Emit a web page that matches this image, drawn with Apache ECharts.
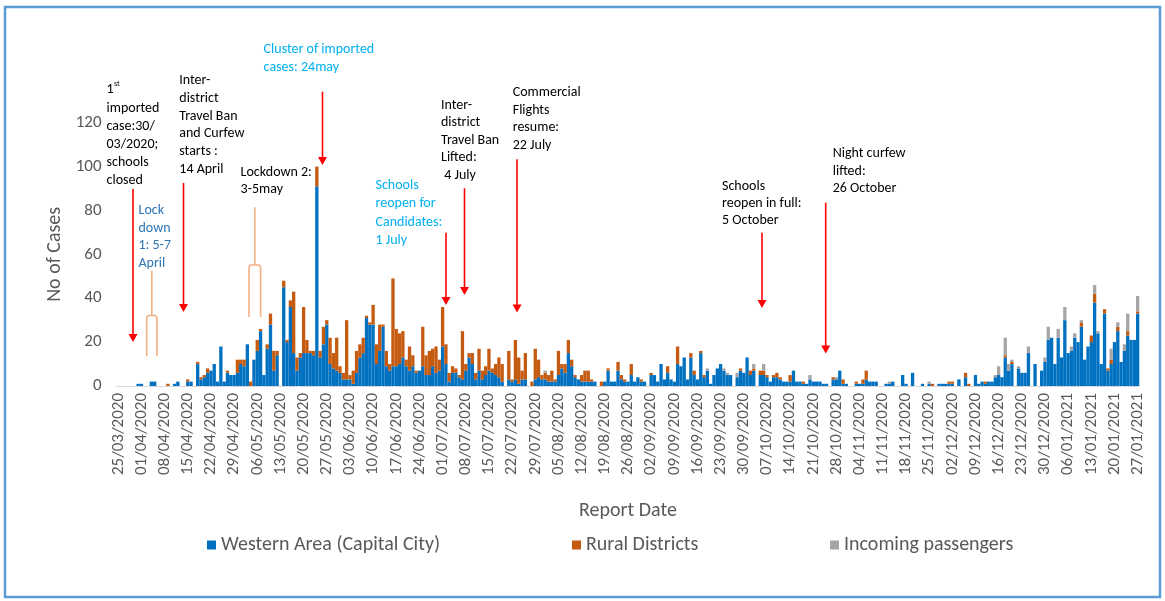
<!DOCTYPE html>
<html><head><meta charset="utf-8">
<script src="https://cdn.jsdelivr.net/npm/echarts@6/dist/echarts.min.js"></script>
<style>html,body{margin:0;padding:0;background:#fff}#c{width:1165px;height:601px}</style>
</head><body><div id="c"></div>
<script>
// ---------- DATA ----------
const startDate = '2020-03-25';
const dayCount = 309; // 25/03/2020 .. 27/01/2021
const seriesNames = ['Western Area (Capital City)', 'Rural Districts', 'Incoming passengers'];
const yTicks = [0, 20, 40, 60, 80, 100, 120];

const western = [
0,0,0,0,0,0,1, 1,0,0,2,2,0,0, 0,0,0,1,2,0,0, 2,2,0,10,3,4,6, 7,10,2,18,2,6,5,
5,6,10,9,19,0,12, 16,25,5,17,28,7,14, 0,45,20,36,15,7,13, 15,15,15,14,91,13,19, 28,10,8,7,6,3,3,
3,1,6,13,15,31,28, 28,10,16,27,9,7,9, 9,10,13,9,7,9,6, 7,9,5,5,9,6,7, 18,10,2,6,6,4,3,
7,13,10,3,7,3,5, 7,6,5,4,2,0,3, 2,3,1,3,3,0,0, 3,4,3,3,2,2,2, 5,8,6,15,9,4,3,
2,2,2,2,2,0,0, 2,7,2,2,7,3,2, 2,5,2,4,2,2,0, 5,5,2,10,3,6,3, 2,10,9,13,3,13,5,
3,15,4,7,1,5,8, 10,7,5,5,0,4,7, 6,13,5,7,0,5,5, 4,2,4,4,3,2,2, 2,7,2,2,1,1,3,
2,2,2,1,1,0,3, 3,7,1,1,0,0,1, 1,1,3,2,2,2,0, 0,1,1,2,0,0,5, 1,0,6,0,0,1,0,
1,0,0,1,1,1,1, 1,0,3,0,4,0,0, 5,1,2,1,2,2,4, 5,4,13,7,10,0,8, 6,6,15,0,10,0,7,
11,21,22,10,22,13,30, 15,16,22,20,27,12,18, 20,38,24,10,33,7,10, 20,25,11,16,23,21,21, 33
];
const rural = [
0,0,0,0,0,0,0, 0,0,0,0,0,0,0, 0,1,0,0,0,0,0, 1,0,0,1,1,1,2, 0,0,0,0,0,1,0,
0,6,2,3,0,2,0, 5,1,0,2,5,9,2, 0,3,1,3,28,6,2, 21,6,1,2,9,3,8, 2,12,7,15,3,3,27,
2,6,10,6,7,1,1, 9,9,12,1,7,3,40, 17,14,12,3,11,5,1, 0,18,9,11,8,12,5, 18,9,4,3,2,1,22,
3,2,5,3,10,4,4, 10,2,5,9,8,0,13, 1,18,12,4,12,0,2, 14,8,2,3,3,5,1, 11,2,4,6,3,1,0,
3,5,5,1,0,0,2, 0,1,0,0,4,2,1, 0,5,0,0,1,0,0, 1,0,0,0,0,3,0, 0,8,0,0,0,2,2,
0,1,1,0,0,0,0, 0,0,0,0,0,0,1, 0,0,2,1,0,2,2, 1,0,1,2,1,0,0, 3,0,0,0,1,0,0,
0,0,0,0,0,0,1, 0,0,2,0,0,0,1, 0,2,4,0,0,0,0, 0,0,0,0,0,0,0, 0,0,0,0,0,0,0,
0,1,0,0,0,0,1, 1,0,0,0,2,1,0, 0,0,0,1,0,0,0, 0,0,1,0,1,0,0, 0,0,0,0,0,0,0,
0,0,0,0,0,0,0, 0,0,0,0,2,0,0, 3,4,0,0,2,1,2, 0,2,0,0,2,0,0, 1
];
const incoming = [
0,0,0,0,0,0,0, 0,0,0,0,0,0,0, 0,0,0,0,0,0,0, 0,0,0,0,0,0,0, 0,0,0,0,0,0,0,
0,0,0,0,0,0,0, 0,0,0,0,0,0,0, 0,0,0,0,0,0,0, 0,0,0,0,0,0,0, 0,0,0,0,0,0,0,
0,0,0,0,0,0,0, 0,0,0,0,0,0,0, 0,0,0,0,0,0,0, 0,0,0,0,0,0,0, 0,0,0,0,0,0,0,
0,0,0,0,0,0,0, 0,0,0,0,0,0,0, 0,0,0,0,0,0,0, 0,0,0,1,0,0,0, 0,0,0,0,0,0,0,
0,0,0,0,0,0,0, 0,0,0,0,0,0,0, 0,0,0,0,0,0,0, 0,0,0,0,0,0,0, 0,0,0,0,0,0,0,
0,0,0,1,0,0,0, 0,1,1,0,0,2,0, 0,0,0,2,0,0,3, 0,0,0,0,0,0,0, 0,0,0,0,0,0,2,
0,0,0,0,0,0,0, 1,0,0,0,0,0,0, 0,0,0,0,0,0,0, 0,0,1,0,0,0,0, 0,0,0,0,0,0,0,
1,0,0,0,0,0,0, 0,0,0,0,0,0,0, 0,0,0,0,0,0,1, 4,0,8,3,1,0,1, 0,0,3,0,0,0,0,
2,6,0,0,4,0,6, 0,2,2,0,1,0,0, 0,4,1,0,0,0,5, 0,2,0,3,8,0,0, 7
];

// ---------- categories (daily dates) ----------
function buildDates(start, n) {
  const out = [];
  const d = new Date(start + 'T12:00:00Z');
  for (let i = 0; i < n; i++) {
    const dd = String(d.getUTCDate()).padStart(2, '0');
    const mm = String(d.getUTCMonth() + 1).padStart(2, '0');
    out.push(dd + '/' + mm + '/' + d.getUTCFullYear());
    d.setUTCDate(d.getUTCDate() + 1);
  }
  return out;
}
const dates = buildDates(startDate, dayCount);

// ---------- styling ----------
const FONT = 'Calibri, Carlito, Lato, sans-serif';
const GREY = '#595959';
const colors = ['#0070C0', '#C55A11', '#A5A5A5'];

function arrow(x, y1, y2) {
  return [
    {type: 'line', silent: true, shape: {x1: x, y1: y1, x2: x, y2: y2 - 6}, style: {stroke: '#FF0000', lineWidth: 1.6}},
    {type: 'polygon', silent: true, shape: {points: [[x - 4.5, y2 - 8], [x + 4.5, y2 - 8], [x, y2]]}, style: {fill: '#FF0000'}}
  ];
}
function bracket(xs, yTop, yBar, xl, xr, yBot) {
  return [
    {type: 'polyline', silent: true, shape: {points: [[xs, yTop], [xs, yBar]]}, style: {stroke: '#F4B183', lineWidth: 1.6, fill: null}},
    {type: 'polyline', silent: true, shape: {points: [[xl, yBot], [xl, yBar + 2], [xl + 1.5, yBar], [xr - 1.5, yBar], [xr, yBar + 2], [xr, yBot]]}, style: {stroke: '#F4B183', lineWidth: 1.6, fill: null}}
  ];
}
function note(x, yTop, text, color, lh) {
  return {type: 'text', silent: true, x: x, y: yTop, style: {text: text, fill: color || '#000', font: '14px ' + FONT, lineHeight: lh || 17.6, verticalAlign: 'top', align: 'left'}};
}

const graphics = [
  {type: 'rect', silent: true, shape: {x: 5, y: 7, width: 1155, height: 590}, style: {fill: null, stroke: '#5B9BD5', lineWidth: 2.5}},
  {type: 'text', silent: true, x: 106.5, y: 82, style: {text: '1', fill: '#000', font: '14px ' + FONT, verticalAlign: 'top'}},
  {type: 'text', silent: true, x: 114, y: 80, style: {text: 'st', fill: '#000', font: '8px ' + FONT, verticalAlign: 'top'}},
  note(106.5, 99.5, 'imported\ncase:30/\n03/2020;\nschools\nclosed', '#000', 17.9),
  note(138.5, 201.5, 'Lock\ndown\n1: 5-7\nApril', '#2E75B6', 17.7),
  note(179.3, 71.5, 'Inter-\ndistrict\nTravel Ban\nand Curfew\nstarts :\n14 April', '#000', 17.8),
  note(240.6, 163.5, 'Lockdown 2:\n3-5may', '#000'),
  note(263.6, 40, 'Cluster of imported\ncases: 24may', '#00B0F0', 18),
  note(375.5, 176.3, 'Schools\nreopen for\nCandidates:\n1 July', '#00B0F0', 18.3),
  note(441, 96.3, 'Inter-\ndistrict\nTravel Ban\nLifted:\n 4 July', '#000', 17.5),
  note(512.7, 83.5, 'Commercial\nFlights\nresume:\n22 July', '#000', 17.7),
  note(722, 177.5, 'Schools\nreopen in full:\n5 October', '#000', 17.3),
  note(832.7, 145, 'Night curfew\nlifted:\n26 October', '#000', 17.4)
]
.concat(arrow(133, 189, 342))
.concat(arrow(183.5, 183, 312))
.concat(arrow(322.5, 91.7, 165))
.concat(arrow(446, 232.7, 305))
.concat(arrow(464.5, 188.3, 295))
.concat(arrow(517, 159.3, 312.5))
.concat(arrow(762, 232.7, 308))
.concat(arrow(825.7, 202.7, 353.5))
.concat(bracket(151.8, 270.7, 315.5, 146.7, 156.9, 356))
.concat(bracket(254.8, 207.3, 265, 249, 260.6, 317));

const chart = echarts.init(document.getElementById('c'), null, {renderer: 'canvas'});
const option = {
  animation: false,
  backgroundColor: '#fff',
  textStyle: {fontFamily: FONT},
  grid: {left: 116.6, right: 25.7, top: 122.7, bottom: 215},
  legend: [0, 1, 2].map((i) => ({
    data: [seriesNames[i]],
    left: [207, 572, 830][i],
    top: 535,
    padding: 0,
    icon: 'rect',
    itemWidth: 9,
    itemHeight: 9,
    itemGap: 6,
    textStyle: {fontSize: 20, color: GREY, fontFamily: FONT, padding: [0, 0, 0, 0]},
    selectedMode: false
  })),
  xAxis: {
    type: 'category',
    data: dates,
    boundaryGap: true,
    axisLine: {lineStyle: {color: '#D9D9D9', width: 1}},
    axisTick: {interval: 6, alignWithLabel: true, length: 5, lineStyle: {color: '#D9D9D9'}},
    axisLabel: {interval: 6, rotate: 90, fontSize: 17, color: GREY, margin: 7, fontFamily: FONT},
    splitLine: {show: false},
    name: 'Report Date',
    nameLocation: 'middle',
    nameGap: 115,
    nameTextStyle: {fontSize: 20, color: GREY, fontFamily: FONT}
  },
  yAxis: {
    type: 'value',
    min: yTicks[0],
    max: yTicks[yTicks.length - 1],
    interval: yTicks[1] - yTicks[0],
    axisLine: {show: false},
    axisTick: {show: false},
    splitLine: {show: false},
    axisLabel: {fontSize: 17, color: GREY, margin: 15, fontFamily: FONT},
    name: 'No of Cases',
    nameLocation: 'middle',
    nameRotate: 90,
    nameGap: 50,
    nameTextStyle: {fontSize: 20, color: GREY, fontFamily: FONT}
  },
  series: [western, rural, incoming].map((d, i) => ({
    name: seriesNames[i],
    type: 'bar',
    stack: 'cases',
    data: d,
    barCategoryGap: '0%',
    itemStyle: {color: colors[i]},
    emphasis: {disabled: true}
  })),
  graphic: graphics
};
chart.setOption(option);
</script>
</body></html>
